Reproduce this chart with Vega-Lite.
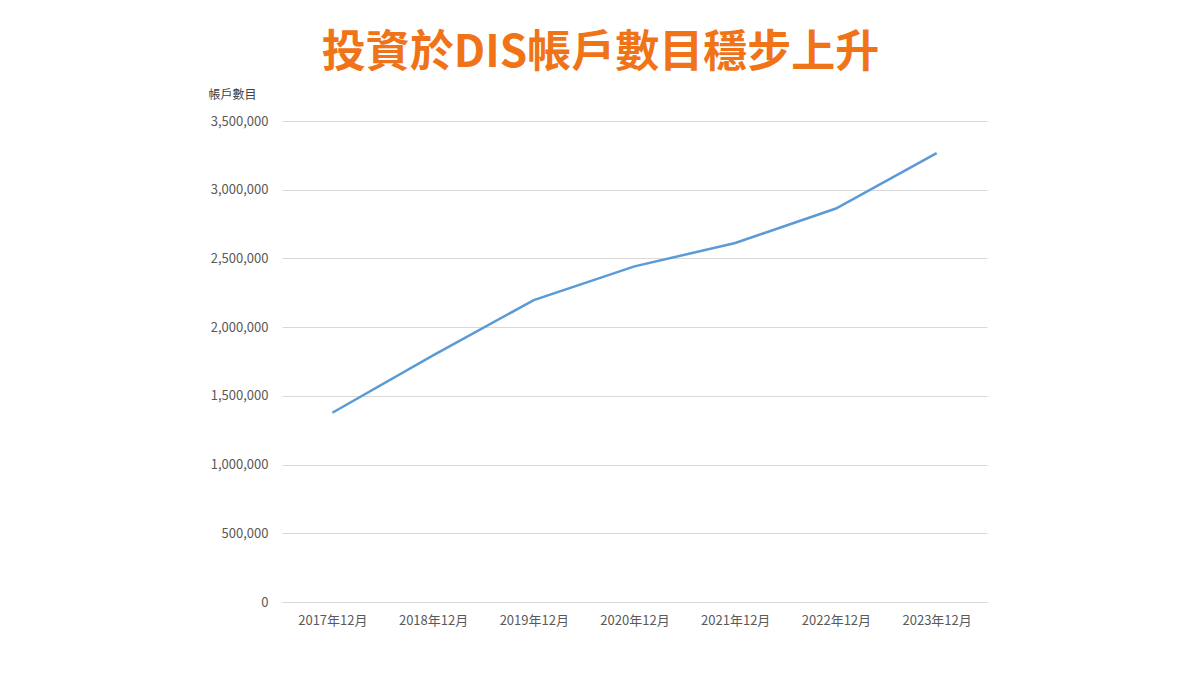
{
  "$schema": "https://vega.github.io/schema/vega-lite/v6.json",
  "autosize": "none",
  "width": 705,
  "height": 481,
  "padding": {"left": 282, "top": 121, "right": 213, "bottom": 73},
  "background": "white",
  "title": {
    "text": "投資於DIS帳戶數目穩步上升",
    "font": "Noto Sans CJK TC",
    "fontSize": 44,
    "fontWeight": "bold",
    "color": "#F07318",
    "anchor": "middle",
    "dx": -34,
    "offset": 12
  },
  "data": {
    "values": [
      {"period": "2017年12月", "accounts": 1377000},
      {"period": "2018年12月", "accounts": 1795000},
      {"period": "2019年12月", "accounts": 2197000},
      {"period": "2020年12月", "accounts": 2442000},
      {"period": "2021年12月", "accounts": 2612000},
      {"period": "2022年12月", "accounts": 2863000},
      {"period": "2023年12月", "accounts": 3266000}
    ]
  },
  "mark": {"type": "line", "color": "#5B9BD5", "strokeWidth": 2.5},
  "encoding": {
    "x": {
      "field": "period",
      "type": "ordinal",
      "sort": null,
      "axis": {
        "title": null,
        "labelAngle": 0,
        "labelFont": "Noto Sans CJK TC",
        "labelFontSize": 13,
        "labelColor": "#595959",
        "labelPadding": 12,
        "ticks": false,
        "grid": false,
        "domainColor": "#D9D9D9",
        "domainWidth": 1
      }
    },
    "y": {
      "field": "accounts",
      "type": "quantitative",
      "scale": {"domain": [0, 3500000]},
      "axis": {
        "title": "帳戶數目",
        "titleAngle": 0,
        "titleAlign": "left",
        "titleBaseline": "middle",
        "titleX": -74,
        "titleY": -27,
        "titleFont": "Noto Sans CJK TC",
        "titleFontSize": 12,
        "titleFontWeight": "normal",
        "titleColor": "#404040",
        "values": [0, 500000, 1000000, 1500000, 2000000, 2500000, 3000000, 3500000],
        "format": ",.0f",
        "labelFont": "Noto Sans CJK TC",
        "labelFontSize": 13,
        "labelColor": "#595959",
        "labelPadding": 14,
        "ticks": false,
        "domain": false,
        "gridColor": "#D9D9D9",
        "gridWidth": 1
      }
    }
  },
  "config": {"view": {"stroke": null}}
}
